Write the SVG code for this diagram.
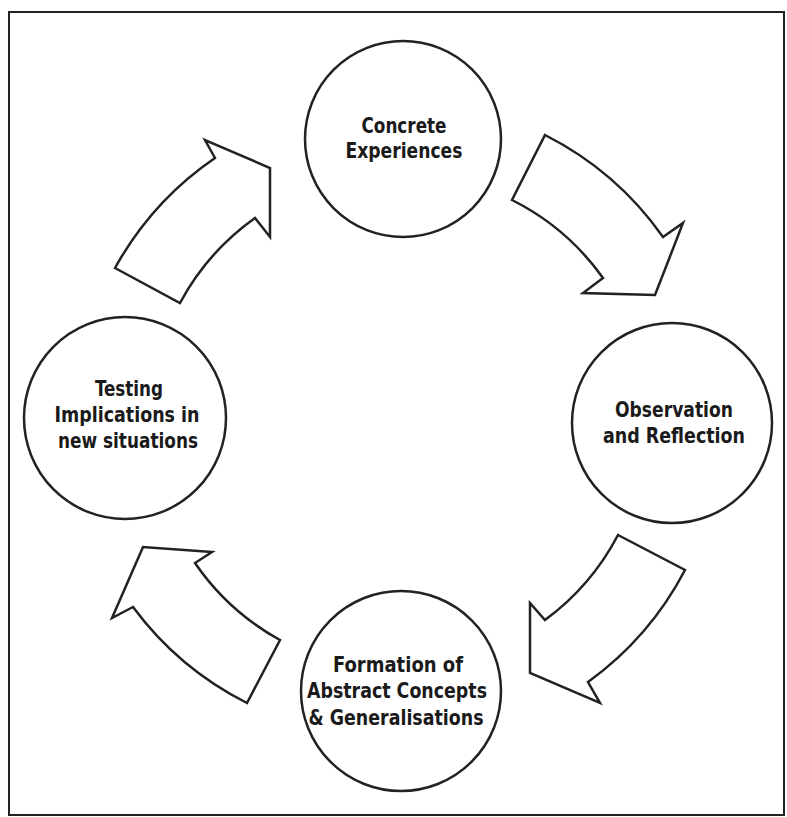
<svg xmlns="http://www.w3.org/2000/svg" width="787" height="817" viewBox="0 0 787 817">
<style>
.frame{fill:none;stroke:#222;stroke-width:2}
.node{fill:#fff;stroke:#222;stroke-width:2.5}
.arrow{fill:#fff;stroke:#222;stroke-width:2.5;stroke-linejoin:miter}
.lbl{font-family:"DejaVu Sans Condensed","DejaVu Sans",sans-serif;font-weight:bold;font-size:20.5px;fill:#1a1a1a;text-anchor:middle}
</style>
<rect width="787" height="817" fill="#fff"/>
<rect class="frame" x="9" y="12" width="775" height="803"/>
<g id="connectors">
<path id="arrow-1" class="arrow" d="M115,268 L180,303 A248,248 0 0 1 255,218 L270,237 L270,168 L205,140 L215,158 A322,322 0 0 0 115,268 Z"/>
<path id="arrow-2" class="arrow" d="M545,135 A322,322 0 0 1 663,237 L683,223 L655,295 L583,293 L603,278 A248,248 0 0 0 512,200 Z"/>
<path id="arrow-3" class="arrow" d="M618,535 L685,570 A322,322 0 0 1 588,682 L600,703 L530,673 L530,603 L545,620 A248,248 0 0 0 618,535 Z"/>
<path id="arrow-4" class="arrow" d="M247,703 L280,640 A248,248 0 0 1 195,563 L212,552 L143,547 L112,618 L133,607 A322,322 0 0 0 247,703 Z"/>
</g>
<g id="node-concrete">
<circle class="node" cx="403" cy="139" r="98"/>
<text class="lbl" x="404" y="133" textLength="85" lengthAdjust="spacingAndGlyphs">Concrete</text>
<text class="lbl" x="404" y="158" textLength="117" lengthAdjust="spacingAndGlyphs">Experiences</text>
</g>
<g id="node-observation">
<circle class="node" cx="672" cy="423" r="100"/>
<text class="lbl" x="674" y="417" textLength="118" lengthAdjust="spacingAndGlyphs">Observation</text>
<text class="lbl" x="674" y="443" textLength="142" lengthAdjust="spacingAndGlyphs">and Reflection</text>
</g>
<g id="node-formation">
<circle class="node" cx="401" cy="691" r="100"/>
<text class="lbl" x="398" y="672" textLength="130" lengthAdjust="spacingAndGlyphs">Formation of</text>
<text class="lbl" x="397" y="698" textLength="180" lengthAdjust="spacingAndGlyphs">Abstract Concepts</text>
<text class="lbl" x="396" y="725" textLength="175" lengthAdjust="spacingAndGlyphs">&amp; Generalisations</text>
</g>
<g id="node-testing">
<circle class="node" cx="125" cy="418" r="101"/>
<text class="lbl" x="129" y="396" textLength="68" lengthAdjust="spacingAndGlyphs">Testing</text>
<text class="lbl" x="127" y="422" textLength="145" lengthAdjust="spacingAndGlyphs">Implications in</text>
<text class="lbl" x="128" y="448" textLength="140" lengthAdjust="spacingAndGlyphs">new situations</text>
</g>
</svg>
